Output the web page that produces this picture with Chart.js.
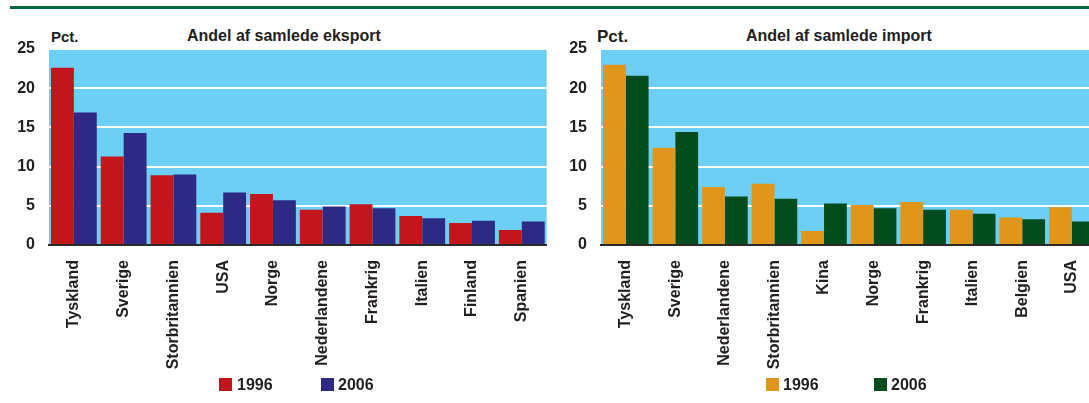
<!DOCTYPE html>
<html>
<head>
<meta charset="utf-8">
<script src="https://cdn.jsdelivr.net/npm/chart.js@4.4.0/dist/chart.umd.min.js"></script>
<style>
  html, body { margin: 0; padding: 0; background: #fff; overflow: hidden; width: 1089px; height: 403px; }
  body { position: relative; font-family: "Liberation Sans", Arial, sans-serif; font-weight: bold; color: #231f20; }
  .txt { position: absolute; white-space: nowrap; }
  .box { position: absolute; width: 13px; height: 13px; }
  canvas { position: absolute; top: 0; }
  #topline { position: absolute; left: 10px; top: 6px; width: 1079px; height: 3px; background: #00693e; }
</style>
</head>
<body>
<div id="topline"></div>

<div class="txt" style="left:51px; top:29px; font-size:15px; line-height:15px;">Pct.</div>
<div class="txt" style="left:187px; top:28px; font-size:16px; line-height:16px;">Andel af samlede eksport</div>
<div class="txt" style="left:597px; top:28px; font-size:17px; line-height:17px;">Pct.</div>
<div class="txt" style="left:746px; top:28px; font-size:16px; line-height:16px;">Andel af samlede import</div>

<canvas id="eksportChart" width="548" height="403" style="left:0px"></canvas>
<canvas id="importChart" width="550" height="403" style="left:548px"></canvas>

<!-- legender -->
<div class="box" style="left:219px; top:378px; background:#c3161c"></div>
<div class="txt" style="left:237px; top:377px; font-size:16px; line-height:16px;">1996</div>
<div class="box" style="left:321px; top:378px; background:#2c2a84"></div>
<div class="txt" style="left:338px; top:377px; font-size:16px; line-height:16px;">2006</div>

<div class="box" style="left:766px; top:378px; background:#e0961a"></div>
<div class="txt" style="left:783px; top:377px; font-size:16px; line-height:16px;">1996</div>
<div class="box" style="left:874px; top:378px; background:#024c1d"></div>
<div class="txt" style="left:891px; top:377px; font-size:16px; line-height:16px;">2006</div>

<script>
// eksport
const eksportLande = ["Tyskland","Sverige","Storbritannien","USA","Norge","Nederlandene","Frankrig","Italien","Finland","Spanien"];
const eksport1996 = [22.6, 11.3, 8.9, 4.1, 6.5, 4.5, 5.2, 3.7, 2.8, 1.9];
const eksport2006 = [16.9, 14.3, 9.0, 6.7, 5.7, 4.9, 4.7, 3.4, 3.1, 3.0];

// import
const importLande = ["Tyskland","Sverige","Nederlandene","Storbritannien","Kina","Norge","Frankrig","Italien","Belgien","USA"];
const import1996 = [23.0, 12.4, 7.4, 7.8, 1.8, 5.1, 5.5, 4.5, 3.5, 4.8];
const import2006 = [21.6, 14.4, 6.2, 5.9, 5.3, 4.7, 4.5, 4.0, 3.3, 3.0];

const yTicks = [0, 5, 10, 15, 20, 25];

const plotBg = {
  id: "plotBg",
  beforeDraw(chart) {
    const { ctx, chartArea: a } = chart;
    ctx.save();
    ctx.fillStyle = "#6dcff6";
    ctx.fillRect(a.left, a.top, a.right - a.left, a.bottom - a.top);
    ctx.restore();
  }
};

function makeChart(id, labels, v1996, v2006, farve1, farve2, yWidth) {
  const ctx = document.getElementById(id).getContext("2d");
  return new Chart(ctx, {
    type: "bar",
    data: {
      labels,
      datasets: [
        { label: "1996", data: v1996, backgroundColor: farve1 },
        { label: "2006", data: v2006, backgroundColor: farve2 }
      ]
    },
    options: {
      responsive: false,
      animation: false,
      barPercentage: 1,
      categoryPercentage: 0.92,
      layout: { padding: { top: 49, right: 0, bottom: 0, left: 0 } },
      plugins: {
        legend: { display: false },
        tooltip: { enabled: false }
      },
      scales: {
        x: {
          z: 1,
          grid: { display: false },
          border: { display: true, color: "#2a2a2a", width: 2 },
          ticks: {
            autoSkip: false,
            minRotation: 90,
            maxRotation: 90,
            padding: 7,
            color: "#231f20",
            font: { family: "Liberation Sans", size: 16, weight: "bold" }
          },
          afterFit: s => { s.height = 158; }
        },
        y: {
          min: 0,
          max: 25,
          grid: { color: "#ffffff", lineWidth: 2, drawTicks: false },
          border: { display: false },
          ticks: {
            padding: 14,
            color: "#231f20",
            font: { family: "Liberation Sans", size: 16, weight: "bold" }
          },
          afterBuildTicks: s => { s.ticks = yTicks.map(v => ({ value: v })); },
          afterFit: s => { s.width = yWidth; }
        }
      }
    },
    plugins: [plotBg]
  });
}

makeChart("eksportChart", eksportLande, eksport1996, eksport2006, "#c3161c", "#2c2a84", 49);
makeChart("importChart", importLande, import1996, import2006, "#e0961a", "#024c1d", 53);
</script>
</body>
</html>
